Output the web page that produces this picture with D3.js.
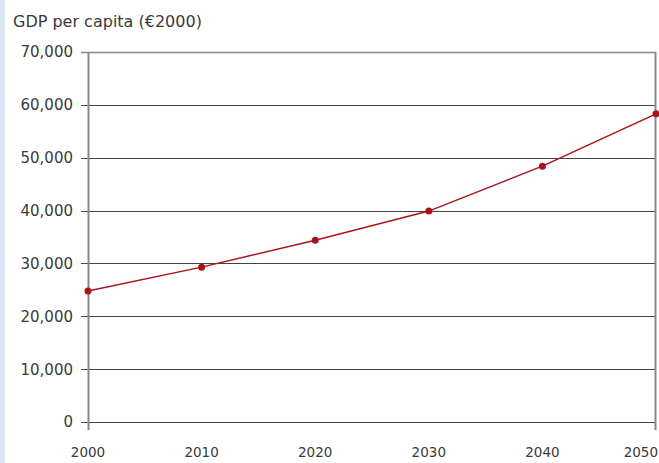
<!DOCTYPE html>
<html>
<head>
<meta charset="utf-8">
<script src="https://cdn.jsdelivr.net/npm/d3@7"></script>
<style>
  body { margin: 0; background: #fff; }
  #chart { width: 659px; height: 463px; }
</style>
</head>
<body>
<div id="chart"></div>
<script>
// GDP per capita projection, €2000
const years = [2000, 2010, 2020, 2030, 2040, 2050];
const gdp = [24800, 29300, 34400, 39900, 48400, 58300];
const yTicks = [0, 10000, 20000, 30000, 40000, 50000, 60000, 70000];

const W = 659, H = 463;
const margin = { top: 52, right: 3, bottom: 41, left: 88 },
      width = W - margin.left - margin.right,
      height = H - margin.top - margin.bottom;

const root = d3.select("#chart")
    .append("svg")
    .attr("width", W)
    .attr("height", H)
    .style("font-family", "DejaVu Sans, sans-serif");

// light blue strip on the left edge
root.append("rect")
    .attr("x", 0).attr("y", 0)
    .attr("width", 5).attr("height", H)
    .attr("fill", "#d9e6f1");

root.append("text")
    .attr("x", 13)
    .attr("y", 27)
    .style("font-size", "16px")
    .attr("fill", "#3a3a3a")
    .text("GDP per capita (€2000)");

const svg = root.append("g")
    .attr("transform", `translate(${margin.left},${margin.top})`);

const x = d3.scaleLinear().domain([2000, 2050]).range([0, width]);
const y = d3.scaleLinear().domain([0, 70000]).range([height, 0]);

// horizontal gridlines with ticks sticking out left
svg.append("g")
    .selectAll("line")
    .data(yTicks)
    .enter()
    .append("line")
    .attr("x1", -7)
    .attr("x2", width)
    .attr("y1", d => Math.round(y(d)) + 0.5)
    .attr("y2", d => Math.round(y(d)) + 0.5)
    .attr("stroke", d => d === 70000 ? "#888" : "#444")
    .attr("stroke-width", d => d === 70000 ? 1.5 : 1);

svg.append("g")
    .selectAll("text")
    .data(yTicks)
    .enter()
    .append("text")
    .attr("x", -15)
    .attr("y", d => y(d))
    .attr("dy", "0.36em")
    .attr("text-anchor", "end")
    .style("font-size", "15px")
    .attr("fill", "#3a3a3a")
    .text(d => d3.format(",")(d));

// left and right frame
svg.append("line")
    .attr("x1", 0.5).attr("x2", 0.5)
    .attr("y1", 0).attr("y2", height + 8)
    .attr("stroke", "#888").attr("stroke-width", 2);
svg.append("line")
    .attr("x1", width - 0.5).attr("x2", width - 0.5)
    .attr("y1", 0).attr("y2", height + 8)
    .attr("stroke", "#888").attr("stroke-width", 2);

// year labels; the last one is pulled in so it stays on the page
svg.append("g")
    .selectAll("text")
    .data(years)
    .enter()
    .append("text")
    .attr("x", (d, i) => i === years.length - 1 ? width + 2 : x(d))
    .attr("y", height + 35)
    .attr("text-anchor", (d, i) => i === years.length - 1 ? "end" : "middle")
    .style("font-size", "13.5px")
    .attr("fill", "#3a3a3a")
    .text(d => d);

const pts = years.map((yr, i) => ({ year: yr, value: gdp[i] }));

svg.append("path")
    .datum(pts)
    .attr("fill", "none")
    .attr("stroke", "#a8141c")
    .attr("stroke-width", 1.5)
    .attr("d", d3.line().x(d => x(d.year)).y(d => y(d.value)));

svg.selectAll("circle")
    .data(pts)
    .enter()
    .append("circle")
    .attr("cx", d => x(d.year))
    .attr("cy", d => y(d.value))
    .attr("r", 3.5)
    .attr("fill", "#a8141c");
</script>
</body>
</html>
